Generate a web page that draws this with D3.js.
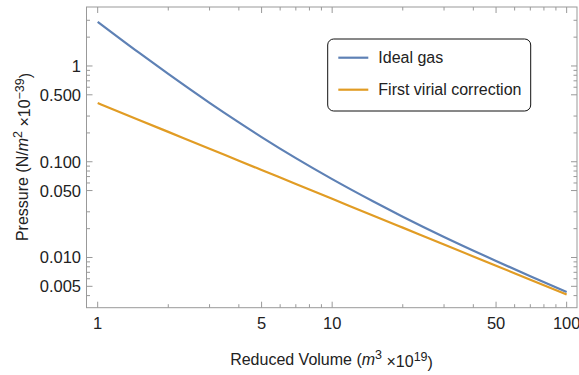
<!DOCTYPE html>
<html>
<head>
<meta charset="utf-8">
<script src="https://cdn.jsdelivr.net/npm/d3@7"></script>
<style>
  body { margin: 0; background: #fff; }
  text { font-family: "Liberation Sans", Arial, sans-serif; fill: #222; }
</style>
</head>
<body>
<div id="chart-area"></div>
<script>
// reduced volume samples (m^3 x 10^19)
const volumes = [1, 1.5, 2, 3, 4, 5, 7, 10, 15, 20, 30, 50, 70, 100];
// pressure (N/m^2 x 10^-39)
const idealGas = [2.89, 1.375, 0.825, 0.412, 0.2575, 0.181, 0.109, 0.0658, 0.0384, 0.0267, 0.0164, 0.0092, 0.00636, 0.00435];
const firstVirial = [0.41, 0.273, 0.205, 0.137, 0.1025, 0.082, 0.0586, 0.041, 0.0273, 0.0205, 0.0137, 0.0082, 0.00586, 0.0041];

const seriesNames = ["Ideal gas", "First virial correction"];
const seriesColors = ["#5E81B5", "#E19C24"];

const xMajor = [1, 5, 10, 50, 100];
const xMinor = [2, 3, 4, 6, 7, 8, 9, 20, 30, 40, 60, 70, 80, 90];
const yMajor = [1, 0.5, 0.1, 0.05, 0.01, 0.005];
const yMajorLabels = ["1", "0.500", "0.100", "0.050", "0.010", "0.005"];
const yMinor = [3, 2, 0.9, 0.8, 0.7, 0.6, 0.3, 0.2, 0.09, 0.08, 0.07, 0.06, 0.03, 0.02, 0.009, 0.008, 0.007, 0.006, 0.004];

(function () {
    'use strict';

    const W = 579, H = 375;
    const left = 86.5, top = 7, right = 577, bottom = 307.7;

    const svg = d3.select('#chart-area')
        .append('svg')
        .attr('width', W)
        .attr('height', H);

    const x = d3.scaleLog()
        .domain([0.896, 110.7])
        .range([left, right]);

    const y = d3.scaleLog()
        .domain([0.00299, 4.13])
        .range([bottom, top]);

    const tickColor = "#999";

    // frame
    svg.append("rect")
        .attr("x", left)
        .attr("y", top)
        .attr("width", right - left)
        .attr("height", bottom - top)
        .attr("fill", "none")
        .attr("stroke", tickColor)
        .attr("stroke-width", 1);

    // bottom + top ticks (inward)
    function xTicks(vals, len) {
        vals.forEach(v => {
            svg.append("line")
                .attr("x1", x(v)).attr("x2", x(v))
                .attr("y1", bottom).attr("y2", bottom - len)
                .attr("stroke", tickColor);
            svg.append("line")
                .attr("x1", x(v)).attr("x2", x(v))
                .attr("y1", top).attr("y2", top + len)
                .attr("stroke", tickColor);
        });
    }
    xTicks(xMajor, 6);
    xTicks(xMinor, 3.5);

    function yTicks(vals, len) {
        vals.forEach(v => {
            svg.append("line")
                .attr("x1", left).attr("x2", left + len)
                .attr("y1", y(v)).attr("y2", y(v))
                .attr("stroke", tickColor);
            svg.append("line")
                .attr("x1", right).attr("x2", right - len)
                .attr("y1", y(v)).attr("y2", y(v))
                .attr("stroke", tickColor);
        });
    }
    yTicks(yMajor, 6);
    yTicks(yMinor, 3.5);

    // tick labels
    svg.selectAll(".xlab")
        .data(xMajor)
        .enter().append("text")
        .attr("x", d => x(d))
        .attr("y", 329)
        .attr("text-anchor", "middle")
        .style("font-size", "16.5px")
        .text(d => d);

    svg.selectAll(".ylab")
        .data(yMajor)
        .enter().append("text")
        .attr("x", left - 5.5)
        .attr("y", d => y(d))
        .attr("dy", "0.36em")
        .attr("text-anchor", "end")
        .style("font-size", "16.5px")
        .text((d, i) => yMajorLabels[i]);

    // axis titles
    const xt = svg.append("text")
        .attr("x", 331.5)
        .attr("y", 365)
        .attr("text-anchor", "middle")
        .style("font-size", "16px");
    xt.append("tspan").text("Reduced Volume (");
    xt.append("tspan").style("font-style", "italic").text("m");
    xt.append("tspan").attr("dy", "-0.45em").style("font-size", "12.5px").text("3");
    xt.append("tspan").attr("dy", "0.45em").text(" \u00d710");
    xt.append("tspan").attr("dy", "-0.45em").style("font-size", "12.5px").text("19");
    xt.append("tspan").attr("dy", "0.45em").text(")");

    const yt = svg.append("text")
        .attr("transform", "translate(28," + 157 + ") rotate(-90)")
        .attr("text-anchor", "middle")
        .style("font-size", "16px");
    yt.append("tspan").text("Pressure (N/");
    yt.append("tspan").style("font-style", "italic").text("m");
    yt.append("tspan").attr("dy", "-0.45em").style("font-size", "12.5px").text("2");
    yt.append("tspan").attr("dy", "0.45em").text(" \u00d710");
    yt.append("tspan").attr("dy", "-0.45em").style("font-size", "12.5px").text("\u221239");
    yt.append("tspan").attr("dy", "0.45em").text(")");

    // curves
    const line = d3.line()
        .x(d => x(d[0]))
        .y(d => y(d[1]))
        .curve(d3.curveMonotoneX);

    [idealGas, firstVirial].forEach((vals, i) => {
        svg.append("path")
            .datum(volumes.map((v, j) => [v, vals[j]]))
            .attr("d", line)
            .attr("fill", "none")
            .attr("stroke", seriesColors[i])
            .attr("stroke-width", 2.2);
    });

    // legend
    const lg = svg.append("g");
    lg.append("rect")
        .attr("x", 327.7)
        .attr("y", 39)
        .attr("width", 203)
        .attr("height", 72)
        .attr("rx", 6)
        .attr("fill", "#fff")
        .attr("stroke", "#111")
        .attr("stroke-width", 1);

    seriesNames.forEach((name, i) => {
        const ly = 57.7 + i * 32;
        lg.append("line")
            .attr("x1", 338.3).attr("x2", 368.3)
            .attr("y1", ly).attr("y2", ly)
            .attr("stroke", seriesColors[i])
            .attr("stroke-width", 2.2);
        lg.append("text")
            .attr("x", 378.3)
            .attr("y", ly)
            .attr("dy", "0.36em")
            .style("font-size", "16px")
            .text(name);
    });
})();
</script>
</body>
</html>
